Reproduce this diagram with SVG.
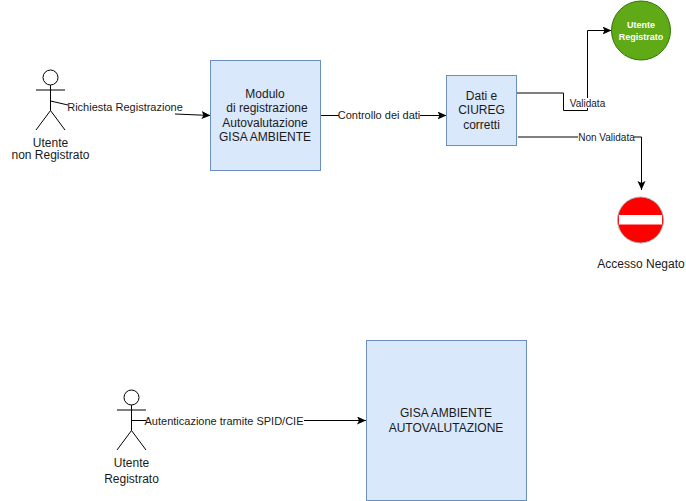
<svg xmlns="http://www.w3.org/2000/svg" width="686" height="501" viewBox="0 0 686 501">
<style>
text{font-family:"Liberation Sans",Arial,sans-serif;font-size:12px;fill:#1a1a1a;text-anchor:middle}
.box{fill:#dae8fc;stroke:#6c8ebf;stroke-width:1}
.actor{fill:none;stroke:#000;stroke-width:1}
.edge{fill:none;stroke:#000;stroke-width:1}
.lbl{font-size:11px}
.sm{font-size:10px}
</style>
<defs>
<marker id="arr" markerUnits="userSpaceOnUse" markerWidth="11" markerHeight="10" refX="9" refY="4" orient="auto"><path d="M0,0L9,4L0,8L2,4Z" fill="#000"/></marker>
</defs>
<rect width="686" height="501" fill="#fff"/>
<g id="connectors">
<path class="edge" d="M50.500 101L68 105"/>
<path class="edge" d="M175 114L210.500 115.500" marker-end="url(#arr)"/>
<path class="edge" d="M320.500 115.500H339"/>
<path class="edge" d="M420 115.500H446.500" marker-end="url(#arr)"/>
<path class="edge" d="M517 93H563.500V110.500H587.500V108"/>
<path class="edge" d="M587.500 98V30.500H611.500" marker-end="url(#arr)"/>
<path class="edge" d="M518 137H578"/>
<path class="edge" d="M634 137H641.500V190" marker-end="url(#arr)"/>
<path class="edge" d="M132 420.500H146"/>
<path class="edge" d="M304 420.500H366" marker-end="url(#arr)"/>
<text class="lbl" x="125" y="111">Richiesta Registrazione</text>
<text class="lbl" x="379" y="119">Controllo dei dati</text>
<text class="sm" x="587.500" y="107">Validata</text>
<text class="sm" x="606.500" y="141">Non Validata</text>
<text class="lbl" x="224" y="425">Autenticazione tramite SPID/CIE</text>
</g>
<g id="utente-non-registrato">
<circle class="actor" cx="50.500" cy="77.500" r="7.500"/>
<path class="actor" d="M50.500 85V110.500M36 90H65M36 130L50.500 110.500L65 130"/>
<text x="50.500" y="147">Utente</text>
<text x="50.500" y="159">non Registrato</text>
</g>
<g id="modulo">
<rect class="box" x="210.500" y="60.500" width="110" height="110"/>
<text x="265" y="98">Modulo</text>
<text x="267" y="112">di registrazione</text>
<text x="265" y="127">Autovalutazione</text>
<text x="265" y="141">GISA AMBIENTE</text>
</g>
<g id="dati">
<rect class="box" x="446.500" y="75.500" width="70" height="70"/>
<text x="481.500" y="100">Dati e</text>
<text x="481.500" y="114">CIUREG</text>
<text x="481.500" y="129">corretti</text>
</g>
<g id="utente-registrato-ok">
<circle cx="641" cy="30.500" r="29.500" fill="#60a917" stroke="#2d7600"/>
<text x="641" y="28" style="font-size:9px;font-weight:bold;fill:#fff">Utente</text>
<text x="641" y="40" style="font-size:9px;font-weight:bold;fill:#fff">Registrato</text>
</g>
<g id="accesso-negato">
<circle cx="640.500" cy="220" r="23" fill="#f00" stroke="#b0b0b0"/>
<rect x="619" y="215" width="43" height="9.500" fill="#fff"/>
<text x="641" y="268">Accesso Negato</text>
</g>
<g id="utente-registrato">
<circle class="actor" cx="131.500" cy="397.500" r="7.500"/>
<path class="actor" d="M131.500 405V430.500M117 410H146M117 450L131.500 430.500L146 450"/>
<text x="131.500" y="467">Utente</text>
<text x="131.500" y="483">Registrato</text>
</g>
<g id="gisa">
<rect class="box" x="366.500" y="340.500" width="160" height="160"/>
<text x="446" y="417">GISA AMBIENTE</text>
<text x="446" y="432">AUTOVALUTAZIONE</text>
</g>
</svg>
